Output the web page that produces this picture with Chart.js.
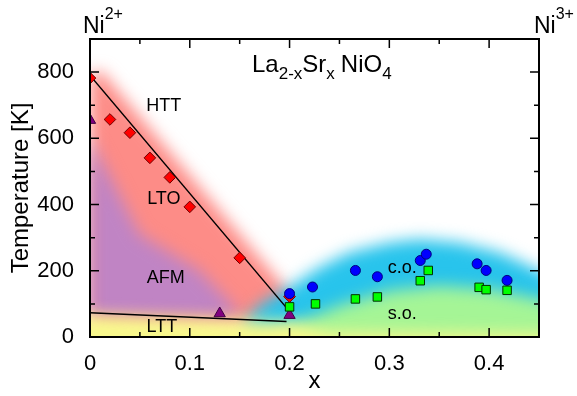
<!DOCTYPE html>
<html>
<head>
<meta charset="utf-8">
<script src="https://cdn.jsdelivr.net/npm/chart.js@4.4.0/dist/chart.umd.min.js"></script>
<style>
  html, body { margin: 0; padding: 0; background: #fff; }
  #wrap { width: 577px; height: 396px; }
</style>
</head>
<body>
<div id="wrap"><canvas id="phaseChart"></canvas></div>
<script>
// values
const xTicks = [0, 0.1, 0.2, 0.3, 0.4];
const yTicks = [0, 200, 400, 600, 800];

const ltoX = [0, 0.02, 0.04, 0.06, 0.08, 0.10, 0.15, 0.20];
const ltoT = [782, 657, 617, 541, 482, 393, 239, 122];
const neelX = [0, 0.13, 0.20];
const neelT = [655, 71, 66];
const coX = [0.20, 0.223, 0.266, 0.288, 0.331, 0.337, 0.388, 0.397, 0.418];
const coT = [131, 151, 201, 182, 231, 250, 221, 201, 171];
const soX = [0.20, 0.226, 0.266, 0.288, 0.331, 0.339, 0.390, 0.397, 0.418];
const soT = [91, 100, 115, 121, 170, 201, 150, 143, 141];

const httLineX = [0, 0.197];
const httLineT = [790, 88];
const lttLineX = [0, 0.197];
const lttLineT = [73, 47];

// shaded phase regions, [x, T]
const ltoRegion = [[0, 800], [0.012, 800], [0.212, 90], [0.22, 20], [0, 20]];
const afmRegion = [[0, 600], [0.05, 310], [0.11, 200], [0.145, 90], [0.15, 55], [0, 55]];
const coRegion = [[0.155, 45], [0.17, 95], [0.2, 150], [0.23, 210], [0.26, 255], [0.3, 285], [0.33, 295],
                  [0.37, 285], [0.41, 255], [0.44, 215], [0.47, 170], [0.47, -80], [0.155, -80]];
const soRegion = [[0.19, 20], [0.25, 95], [0.3, 140], [0.35, 155], [0.4, 145], [0.45, 115],
                  [0.47, 100], [0.47, -80], [0.19, -80]];
const lttRegion = [[-0.05, 70], [0.2, 45], [0.24, 15], [0.47, 10], [0.47, -80], [-0.05, -80]];

const phaseLabels = ['HTT', 'LTO', 'AFM', 'LTT', 'c.o.', 's.o.'];
const phaseLabelX = [0.074, 0.074, 0.076, 0.072, 0.313, 0.313];
const phaseLabelT = [697, 417, 178, 30, 208, 70];

function pts(xs, ys) {
    return xs.map((x, i) => ({ x: x, y: ys[i] }));
}

const FONT = "'Liberation Sans', Arial, sans-serif";

const shading = {
    id: 'shading',
    beforeDatasetsDraw(chart) {
        const { ctx, chartArea, scales } = chart;
        const fills = [
            [ltoRegion, 'rgb(253,140,135)'],
            [afmRegion, 'rgb(192,132,196)'],
            [coRegion, 'rgb(40,196,236)'],
            [soRegion, 'rgb(165,245,150)'],
            [lttRegion, 'rgb(248,248,140)']
        ];
        ctx.save();
        ctx.beginPath();
        ctx.rect(chartArea.left, chartArea.top, chartArea.right - chartArea.left, chartArea.bottom - chartArea.top);
        ctx.clip();
        ctx.filter = 'blur(8px)';
        fills.forEach(([poly, color]) => {
            ctx.beginPath();
            poly.forEach(([x, t], i) => {
                const px = scales.x.getPixelForValue(x);
                const py = scales.y.getPixelForValue(t);
                if (i === 0) ctx.moveTo(px, py); else ctx.lineTo(px, py);
            });
            ctx.closePath();
            ctx.fillStyle = color;
            ctx.fill();
        });
        ctx.restore();
    }
};

function drawRich(ctx, parts, x, y) {
    parts.forEach(p => {
        ctx.font = p.size + 'px ' + FONT;
        ctx.fillText(p.t, x, y + p.dy);
        x += ctx.measureText(p.t).width + (p.gap || 0);
    });
}

const frame = {
    id: 'frame',
    afterDatasetsDraw(chart) {
        const { ctx, scales } = chart;
        ctx.save();
        ctx.fillStyle = '#000';
        ctx.textAlign = 'center';
        ctx.textBaseline = 'middle';
        ctx.font = '18px ' + FONT;
        phaseLabels.forEach((txt, i) => {
            ctx.fillText(txt, scales.x.getPixelForValue(phaseLabelX[i]), scales.y.getPixelForValue(phaseLabelT[i]));
        });
        ctx.restore();
    },
    afterDraw(chart) {
        const { ctx, chartArea: a, scales } = chart;
        ctx.save();
        ctx.strokeStyle = '#000';
        ctx.lineWidth = 2;
        ctx.strokeRect(a.left, a.top, a.right - a.left, a.bottom - a.top);
        ctx.lineWidth = 1.5;
        ctx.beginPath();
        for (let i = 1; i < 9; i++) {
            const px = scales.x.getPixelForValue(i * 0.05);
            const len = i % 2 === 0 ? 9 : 5;
            ctx.moveTo(px, a.bottom); ctx.lineTo(px, a.bottom - len);
            ctx.moveTo(px, a.top); ctx.lineTo(px, a.top + len);
        }
        for (let i = 1; i < 9; i++) {
            const py = scales.y.getPixelForValue(i * 100);
            const len = i % 2 === 0 ? 9 : 5;
            ctx.moveTo(a.left, py); ctx.lineTo(a.left + len, py);
            ctx.moveTo(a.right, py); ctx.lineTo(a.right - len, py);
        }
        ctx.stroke();

        ctx.fillStyle = '#000';
        ctx.textAlign = 'left';
        ctx.textBaseline = 'alphabetic';
        drawRich(ctx, [{ t: 'Ni', size: 23, dy: 0 }, { t: '2+', size: 16, dy: -14 }], a.left - 7, a.top - 6);
        drawRich(ctx, [{ t: 'Ni', size: 23, dy: 0 }, { t: '3+', size: 16, dy: -14 }], a.right - 5, a.top - 6);
        drawRich(ctx, [
            { t: 'La', size: 24, dy: 0 }, { t: '2-x', size: 17, dy: 7 },
            { t: 'Sr', size: 24, dy: 0 }, { t: 'x', size: 17, dy: 7, gap: 6 },
            { t: 'NiO', size: 24, dy: 0 }, { t: '4', size: 17, dy: 7 }
        ], a.left + 162, a.top + 33);
        ctx.restore();
    }
};

new Chart(document.getElementById('phaseChart'), {
    type: 'scatter',
    data: {
        datasets: [{
            type: 'line',
            data: pts(httLineX, httLineT),
            borderColor: '#000',
            borderWidth: 1.5,
            pointRadius: 0,
            order: 10
        }, {
            type: 'line',
            data: pts(lttLineX, lttLineT),
            borderColor: '#000',
            borderWidth: 1.5,
            pointRadius: 0,
            order: 10
        }, {
            data: pts(ltoX, ltoT),
            pointStyle: 'rectRot',
            pointRadius: 5.8,
            backgroundColor: '#ff0000',
            borderColor: '#700000',
            borderWidth: 1,
            order: 5
        }, {
            data: pts(neelX, neelT),
            pointStyle: 'triangle',
            pointRadius: 6.5,
            backgroundColor: '#800080',
            borderColor: '#400040',
            borderWidth: 1,
            order: 4
        }, {
            data: pts(coX, coT),
            pointStyle: 'circle',
            pointRadius: 5,
            backgroundColor: '#0000ff',
            borderColor: '#000080',
            borderWidth: 1,
            order: 3
        }, {
            data: pts(soX, soT),
            pointStyle: 'rect',
            pointRadius: 6,
            backgroundColor: '#00ff00',
            borderColor: '#003000',
            borderWidth: 1,
            order: 2
        }]
    },
    options: {
        responsive: true,
        maintainAspectRatio: false,
        animation: false,
        layout: { padding: { left: 0, right: 38, top: 39, bottom: 0 } },
        plugins: {
            legend: { display: false },
            tooltip: { enabled: false }
        },
        scales: {
            x: {
                type: 'linear',
                min: 0,
                max: 0.45,
                afterBuildTicks: s => { s.ticks = xTicks.map(v => ({ value: v })); },
                afterFit: s => { s.height = 59; },
                grid: { display: false },
                border: { display: true, color: '#000', width: 2 },
                ticks: {
                    color: '#000',
                    font: { family: FONT, size: 22 },
                    padding: 6,
                    maxRotation: 0,
                    callback: v => v === 0 ? '0' : v.toFixed(1)
                },
                title: {
                    display: true,
                    text: 'x',
                    color: '#000',
                    font: { family: FONT, size: 24 },
                    padding: { top: 0, bottom: 0 }
                }
            },
            y: {
                min: 0,
                max: 900,
                afterBuildTicks: s => { s.ticks = yTicks.map(v => ({ value: v })); },
                afterFit: s => { s.width = 90; },
                grid: { display: false },
                border: { display: true, color: '#000', width: 2 },
                ticks: {
                    color: '#000',
                    font: { family: FONT, size: 22 },
                    padding: 8
                },
                title: {
                    display: true,
                    text: 'Temperature [K]',
                    color: '#000',
                    font: { family: FONT, size: 24 },
                    padding: { top: 7, bottom: 0 }
                }
            }
        }
    },
    plugins: [shading, frame]
});
</script>
</body>
</html>
